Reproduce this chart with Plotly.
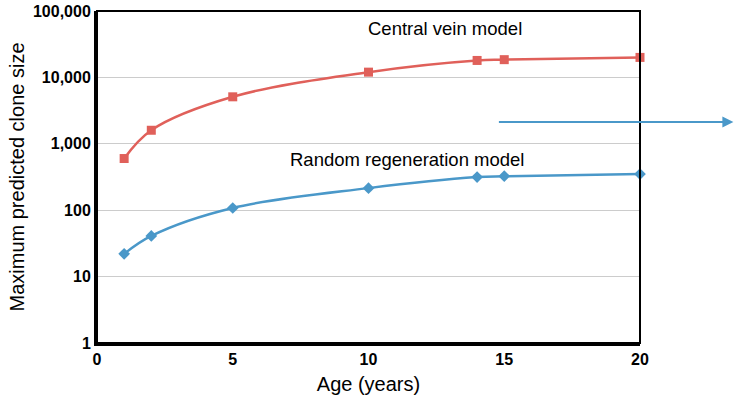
import plotly.graph_objects as go

# data
age = [1, 2, 5, 10, 14, 15, 20]
central_vein = [600, 1600, 5100, 12000, 18000, 18500, 20000]
random_regen = [22, 41, 108, 215, 315, 325, 350]

y_ticks = [1, 10, 100, 1000, 10000, 100000]
y_labels = ["1", "10", "100", "1,000", "10,000", "100,000"]
x_ticks = [0, 5, 10, 15, 20]

RED = "#e0605a"
BLUE = "#4a98c9"

fig = go.Figure()

fig.add_trace(go.Scatter(
    x=age, y=central_vein, mode="lines+markers", line_shape="spline",
    line=dict(color=RED, width=2.5),
    marker=dict(symbol="square", size=9, color=RED),
    cliponaxis=False, showlegend=False,
))
fig.add_trace(go.Scatter(
    x=age, y=random_regen, mode="lines+markers", line_shape="spline",
    line=dict(color=BLUE, width=2.5),
    marker=dict(symbol="diamond", size=9, color=BLUE),
    cliponaxis=False, showlegend=False,
))

# labels inside the plot
fig.add_annotation(x=12.8, y=4.73, xref="x", yref="y", text="Central vein model",
                   showarrow=False, font=dict(size=18.5, color="black"))
fig.add_annotation(x=11.4, y=2.76, xref="x", yref="y", text="Random regeneration model",
                   showarrow=False, font=dict(size=18.5, color="black"))

# arrow pointing out to the right
fig.add_annotation(x=1.172, y=0.666, ax=-236, ay=0,
                   xref="paper", yref="paper", axref="pixel", ayref="pixel",
                   text="", showarrow=True, arrowhead=2, arrowsize=1.1,
                   arrowwidth=2, arrowcolor=BLUE)

# thinner frame on top and right
fig.add_shape(type="rect", xref="paper", yref="paper", x0=0, y0=0, x1=1, y1=1,
              line=dict(color="black", width=2), layer="above")

fig.update_xaxes(
    range=[0, 20], tickvals=x_ticks, showgrid=False, zeroline=False,
    showline=True, linecolor="black", linewidth=3, ticks="", automargin=False,
    tickfont=dict(family="Liberation Sans", size=16, color="black", weight="bold"),
    title=dict(text="Age (years)", font=dict(size=20, color="black"), standoff=10),
)
fig.update_yaxes(
    type="log", range=[0, 5], tickvals=y_ticks, ticktext=y_labels,
    showgrid=True, gridcolor="#cccccc", gridwidth=1, zeroline=False,
    showline=True, linecolor="black", linewidth=3, ticks="", automargin=False,
    tickfont=dict(family="Liberation Sans", size=16, color="black", weight="bold"),
    title=dict(text="Maximum predicted clone size", font=dict(size=20, color="black"), standoff=3),
)

fig.update_layout(
    width=737, height=402,
    margin=dict(l=97, r=97, t=11, b=59, autoexpand=False),
    plot_bgcolor="white", paper_bgcolor="white",
    font=dict(family="Liberation Sans, Arial, sans-serif", color="black"),
)

# page body has a default 8px margin; drop it so the figure sits at the window corner
fig.write_html("out.html", config={"displayModeBar": False},
               post_script="document.body.style.margin='0';")
